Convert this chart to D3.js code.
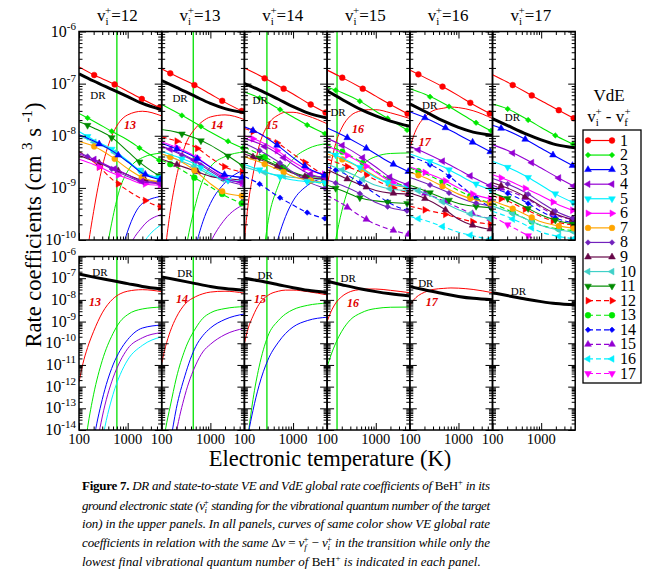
<!DOCTYPE html>
<html><head><meta charset="utf-8">
<script src="https://cdn.jsdelivr.net/npm/d3@7"></script>
</head><body style="margin:0">
<svg id="c" width="651" height="579"></svg>
<script>
// ---------------- DATA ----------------
const temps = [100, 200, 500, 1000, 2000, 5000];
const veTemps = [100, 120, 150, 200, 300, 500, 700, 1000, 2000, 5000];
const panelVi = [12, 13, 14, 15, 16, 17];
const thresholdT = [600, 445, 290, 160, null, null];
const xTickLabels = ["100", "1000"];
const yTickExpUpper = [-6, -7, -8, -9, -10];
const yTickExpLower = [-6, -7, -8, -9, -10, -11, -12, -13, -14];
const legendLabels = ["1","2","3","4","5","6","7","8","9","10","11","12","13","14","15","16","17"];
const veLabels = ["13", "14", "15", "16", "17", null];

// DR rate coefficients, log10 (cm^3 s^-1) at temps
const drLog = [
  [-6.81, -6.95, -7.12, -7.25, -7.38, -7.50],
  [-6.94, -7.07, -7.25, -7.38, -7.48, -7.56],
  [-7.00, -7.12, -7.30, -7.44, -7.56, -7.66],
  [-7.14, -7.30, -7.50, -7.62, -7.72, -7.82],
  [-7.39, -7.53, -7.72, -7.84, -7.93, -7.99],
  [-7.67, -7.80, -7.97, -8.08, -8.17, -8.23]
];

// VdE rate coefficients, log10, one row per v_i - v_f = 1..v_i
const vdeLog12 = [
  [-6.68,-6.83,-7.00,-7.15,-7.30,-7.48],
  [-7.57,-7.72,-7.93,-8.08,-8.27,-8.50],
  [-7.98,-8.10,-8.30,-8.50,-8.72,-8.85],
  [-8.35,-8.45,-8.62,-8.75,-8.88,-8.92],
  [-7.92,-8.08,-8.27,-8.48,-8.70,-8.82],
  [-8.45,-8.55,-8.72,-8.82,-8.92,-8.95],
  [-8.11,-8.20,-8.42,-8.63,-8.80,-8.90],
  [-8.32,-8.45,-8.65,-8.78,-8.88,-8.90],
  [-8.38,-8.48,-8.63,-8.75,-8.85,-8.88],
  [-8.00,-8.12,-8.30,-8.50,-8.70,-8.82],
  [-7.73,-7.85,-8.05,-8.30,-8.55,-8.80],
  [-8.30,-8.50,-8.85,-9.05,-9.22,-9.38]
];
const vdeLog13 = [
  [-6.72,-6.86,-7.04,-7.20,-7.36,-7.55],
  [-7.40,-7.55,-7.76,-7.93,-8.08,-8.25],
  [-8.15,-8.25,-8.42,-8.60,-8.75,-8.80],
  [-8.20,-8.30,-8.48,-8.65,-8.82,-8.90],
  [-8.30,-8.40,-8.55,-8.72,-8.85,-8.88],
  [-8.12,-8.22,-8.40,-8.60,-8.80,-8.92],
  [-8.35,-8.45,-8.68,-8.92,-9.10,-9.16],
  [-8.20,-8.32,-8.50,-8.68,-8.85,-8.95],
  [-8.45,-8.55,-8.68,-8.78,-8.82,-8.85],
  [-8.35,-8.45,-8.60,-8.75,-8.85,-8.88],
  [-7.88,-7.93,-8.05,-8.18,-8.35,-8.60],
  [-8.02,-8.10,-8.22,-8.42,-8.60,-8.70],
  [-8.47,-8.60,-8.82,-8.98,-9.15,-9.32]
];
const vdeLog14 = [
  [-6.70,-6.84,-7.04,-7.20,-7.37,-7.57],
  [-7.16,-7.27,-7.48,-7.64,-7.80,-7.98],
  [-7.83,-7.95,-8.20,-8.42,-8.62,-8.78],
  [-8.05,-8.15,-8.35,-8.55,-8.72,-8.82],
  [-8.55,-8.65,-8.78,-8.85,-8.88,-8.90],
  [-8.00,-8.10,-8.30,-8.50,-8.65,-8.75],
  [-8.40,-8.50,-8.65,-8.78,-8.85,-8.90],
  [-8.15,-8.28,-8.50,-8.70,-8.88,-9.02],
  [-8.35,-8.45,-8.60,-8.72,-8.80,-8.83],
  [-8.60,-8.68,-8.76,-8.80,-8.82,-8.85],
  [-8.30,-8.42,-8.58,-8.70,-8.78,-8.80],
  [-7.86,-7.96,-8.15,-8.35,-8.55,-8.80],
  [-8.22,-8.35,-8.55,-8.72,-8.85,-8.92],
  [-8.78,-8.92,-9.17,-9.33,-9.48,-9.60]
];
const vdeLog15 = [
  [-6.74,-6.88,-7.08,-7.24,-7.40,-7.60],
  [-7.07,-7.17,-7.35,-7.53,-7.70,-7.92],
  [-7.85,-7.98,-8.18,-8.35,-8.52,-8.70],
  [-8.05,-8.18,-8.40,-8.60,-8.80,-8.95],
  [-8.30,-8.42,-8.62,-8.80,-8.92,-8.98],
  [-8.20,-8.32,-8.52,-8.70,-8.88,-9.00],
  [-8.35,-8.45,-8.62,-8.78,-8.92,-9.00],
  [-8.85,-8.95,-9.12,-9.28,-9.38,-9.45],
  [-8.65,-8.78,-8.95,-9.05,-9.10,-9.12],
  [-8.55,-8.65,-8.82,-8.95,-9.02,-9.05],
  [-8.95,-9.05,-9.20,-9.25,-9.28,-9.30],
  [-8.45,-8.55,-8.70,-8.85,-8.98,-9.10],
  [-8.17,-8.30,-8.50,-8.68,-8.85,-9.00],
  [-8.60,-8.70,-8.92,-9.12,-9.30,-9.45],
  [-9.15,-9.30,-9.55,-9.70,-9.80,-9.90]
];
const vdeLog16 = [
  [-6.74,-6.88,-7.07,-7.23,-7.40,-7.60],
  [-7.10,-7.20,-7.38,-7.55,-7.72,-7.92],
  [-7.54,-7.65,-7.83,-7.98,-8.13,-8.33],
  [-8.20,-8.32,-8.50,-8.65,-8.80,-8.98],
  [-8.35,-8.45,-8.60,-8.75,-8.90,-9.05],
  [-8.60,-8.70,-8.85,-9.00,-9.12,-9.22],
  [-8.70,-8.80,-8.98,-9.12,-9.22,-9.30],
  [-8.80,-8.90,-9.05,-9.18,-9.28,-9.35],
  [-9.10,-9.20,-9.40,-9.60,-9.72,-9.80],
  [-9.00,-9.10,-9.28,-9.42,-9.52,-9.60],
  [-8.95,-9.05,-9.20,-9.30,-9.35,-9.38],
  [-9.35,-9.42,-9.50,-9.58,-9.65,-9.70],
  [-8.62,-8.72,-8.90,-9.05,-9.18,-9.30],
  [-8.40,-8.50,-8.70,-8.92,-9.15,-9.40],
  [-9.00,-9.10,-9.25,-9.38,-9.50,-9.60],
  [-9.55,-9.62,-9.75,-9.85,-9.92,-10.00]
];
const vdeLog17 = [
  [-6.83,-6.97,-7.17,-7.33,-7.48,-7.68],
  [-7.39,-7.48,-7.68,-7.84,-8.00,-8.18],
  [-7.80,-7.90,-8.08,-8.24,-8.40,-8.60],
  [-8.17,-8.28,-8.46,-8.62,-8.78,-8.98],
  [-8.49,-8.60,-8.78,-8.95,-9.12,-9.30],
  [-8.75,-8.85,-9.02,-9.15,-9.30,-9.45],
  [-9.25,-9.35,-9.52,-9.65,-9.72,-9.78],
  [-8.82,-8.92,-9.10,-9.28,-9.45,-9.60],
  [-8.90,-9.00,-9.18,-9.35,-9.50,-9.62],
  [-9.35,-9.45,-9.60,-9.72,-9.80,-9.85],
  [-9.10,-9.20,-9.38,-9.52,-9.62,-9.70],
  [-9.15,-9.25,-9.42,-9.55,-9.65,-9.72],
  [-9.30,-9.42,-9.60,-9.72,-9.78,-9.82],
  [-9.00,-9.10,-9.28,-9.45,-9.58,-9.68],
  [-8.95,-9.05,-9.20,-9.38,-9.52,-9.62],
  [-9.45,-9.55,-9.72,-9.85,-9.92,-9.98],
  [-9.55,-9.70,-9.90,-10.05,-10.15,-10.20]
];

// VE rate coefficients, log10, at veTemps (dv = 1,2,3,... colours red, green, blue, violet, cyan)
const veLog12 = [
  [-11.8,-10.95,-10.2,-9.45,-8.6,-7.95,-7.72,-7.6,-7.53,-7.62],
  [-17.1,-15.5,-13.9,-12.35,-10.8,-9.55,-9.0,-8.68,-8.42,-8.33],
  [-20.4,-18.5,-16.5,-14.5,-12.6,-11.0,-10.33,-9.83,-9.3,-9.16],
  [-22.4,-20.15,-17.9,-15.65,-13.4,-11.6,-10.83,-10.25,-9.75,-9.51],
  [-25.1,-22.45,-19.8,-17.14,-14.5,-12.36,-11.45,-10.77,-10.1,-9.7]
];
const veLog13 = [
  [-10.9,-10.15,-9.45,-8.8,-8.2,-7.85,-7.72,-7.64,-7.6,-7.69],
  [-15.1,-13.96,-12.9,-11.6,-10.3,-9.3,-8.85,-8.6,-8.4,-8.31],
  [-17.2,-15.9,-14.6,-13.0,-11.5,-10.15,-9.65,-9.3,-8.9,-8.65],
  [-19.2,-17.5,-15.8,-14.1,-12.4,-11.0,-10.4,-10.05,-9.6,-9.31]
];
const veLog14 = [
  [-10.0,-9.3,-8.75,-8.2,-7.8,-7.6,-7.55,-7.55,-7.62,-7.77],
  [-15.7,-14.2,-12.6,-11.1,-9.7,-8.95,-8.65,-8.45,-8.25,-8.15],
  [-15.4,-14.2,-13.1,-11.95,-10.8,-9.95,-9.55,-9.25,-8.95,-8.8]
];
const veLog15 = [
  [-9.0,-8.55,-8.15,-7.85,-7.62,-7.52,-7.5,-7.5,-7.56,-7.67],
  [-11.1,-10.55,-10.0,-9.45,-8.92,-8.6,-8.47,-8.4,-8.34,-8.33]
];
const veLog16 = [
  [-8.25,-8.0,-7.8,-7.65,-7.52,-7.47,-7.45,-7.46,-7.52,-7.67]
];
const veLog17 = [];

// label anchors in data space: [T, log10 k]
const drLabelUpper = [[245,-7.22],[238,-7.27],[210,-7.31],[168,-7.54],[257,-7.41],[257,-7.64]];
const drLabelLower = [[270,-6.71],[301,-6.76],[266,-6.85],[270,-6.99],[213,-7.22],[342,-7.59]];
const veLabelUpper = [[1120,-7.79],[1370,-7.79],[370,-7.79],[433,-7.87],[203,-8.12],null];
const veLabelLower = [[213,-8.1],[261,-7.96],[210,-7.96],[342,-8.14],[283,-8.1],null];

const vdeAll = [vdeLog12, vdeLog13, vdeLog14, vdeLog15, vdeLog16, vdeLog17];
const veAll = [veLog12, veLog13, veLog14, veLog15, veLog16, veLog17];

// ---------------- STYLE ----------------
const FONT = "Liberation Serif";
const colors = ["#ff0000","#00e800","#0000ff","#9400d3","#00f0ff","#ff00ff","#ffa500","#7221bc","#670748","#40d0c8","#008b00","#ff0000","#00e800","#0000ff","#9400d3","#00f0ff","#ff00ff"];
const symbols = ["circle","diamond","up","left","down","right","circle","diamond","up","left","down","right","circle","diamond","up","left","down"];
const markerPatterns = [[205,540,1950,4500],[150,470,1750,4400],[260,640,2300,4650]];

const svg = d3.select("#c");
const P0 = 79, PW = 82.7;
const UP = {top:31.5, bottom:240, dom:[1e-10,1e-6]};
const LO = {top:256.5, bottom:430, dom:[1e-14,1e-6]};

function txt(parent){ return parent.append("text").style("font-family", FONT); }
function symPath(type){
  const m = {circle:[d3.symbolCircle,0,26], diamond:[d3.symbolSquare,45,15], up:[d3.symbolTriangle,0,20],
    left:[d3.symbolTriangle,-90,20], down:[d3.symbolTriangle,180,20], right:[d3.symbolTriangle,90,20]}[type];
  return {d: d3.symbol(m[0], m[2])(), r: m[1]};
}
function drawMarker(g, type, x, y, color){
  const s = symPath(type);
  g.append("path").attr("d", s.d).attr("transform", `translate(${x},${y}) rotate(${s.r})`)
    .attr("fill", color).attr("stroke", color).attr("stroke-width", 0.5);
}
// point on a monotone curve at a given x, by linear interpolation in pixel space of the same points
function curveY(pts, xt){
  for (let j = 0; j < pts.length-1; j++){
    if (xt >= pts[j][0] && xt <= pts[j+1][0]){
      const f = (xt - pts[j][0]) / (pts[j+1][0] - pts[j][0]);
      return pts[j][1] + f*(pts[j+1][1] - pts[j][1]);
    }
  }
  return pts[pts.length-1][1];
}

const defs = svg.append("defs");
const plotLayer = svg.append("g");
const textLayer = svg.append("g");

function drawPanel(i, box, upper){
  const left = P0 + i*PW, right = left + PW;
  const x = d3.scaleLog().domain([100,5000]).range([left,right]);
  const y = d3.scaleLog().domain(box.dom).range([box.bottom, box.top]);
  const cid = `clip${upper?"u":"l"}${i}`;
  defs.append("clipPath").attr("id", cid).append("rect")
    .attr("x", left).attr("y", box.top).attr("width", PW).attr("height", box.bottom-box.top);
  const g = plotLayer.append("g");
  const cg = g.append("g").attr("clip-path", `url(#${cid})`);
  const line = d3.line().x(d=>x(d[0])).y(d=>y(Math.pow(10,d[1]))).curve(d3.curveMonotoneX);

  if (thresholdT[i]) cg.append("line").attr("x1", x(thresholdT[i])).attr("x2", x(thresholdT[i]))
    .attr("y1", box.top).attr("y2", box.bottom).attr("stroke", "#00e000").attr("stroke-width", 1.3);

  veAll[i].forEach((row, k) => {
    cg.append("path").attr("d", line(veTemps.map((t,j)=>[t,row[j]])))
      .attr("fill","none").attr("stroke", colors[k]).attr("stroke-width", 1);
  });

  if (upper){
    const rows = vdeAll[i];
    for (let k = rows.length-1; k >= 0; k--){
      const data = temps.map((t,j)=>[t,rows[k][j]]);
      cg.append("path").attr("d", line(data))
        .attr("fill","none").attr("stroke", colors[k]).attr("stroke-width", 1.1)
        .attr("stroke-dasharray", k >= 11 ? "5,3" : null);
      const pts = data.map(d => [x(d[0]), y(Math.pow(10,d[1]))]);
      markerPatterns[(k + i) % 3].forEach(t => {
        drawMarker(cg, symbols[k], x(t), curveY(pts, x(t)), colors[k]);
      });
    }
  }

  cg.append("path").attr("d", line(temps.map((t,j)=>[t,drLog[i][j]])))
    .attr("fill","none").attr("stroke","#000").attr("stroke-width", 3);

  const ax = g.append("g");
  const xMaj = [100,1000], xMin = [200,300,400,500,600,700,800,900,2000,3000,4000];
  const e0 = Math.round(Math.log10(box.dom[0])), e1 = Math.round(Math.log10(box.dom[1]));
  const yMaj = [], yMin = [];
  for (let e = e0; e <= e1; e++){ yMaj.push(Math.pow(10,e)); if (e < e1) for (let m = 2; m <= 9; m++) yMin.push(m*Math.pow(10,e)); }
  const add = (axis, tr) => ax.append("g").attr("transform", tr).call(axis);
  add(d3.axisBottom(x).tickValues(xMaj).tickSize(-7).tickFormat(""), `translate(0,${box.bottom})`);
  add(d3.axisBottom(x).tickValues(xMin).tickSize(-3.5).tickFormat(""), `translate(0,${box.bottom})`);
  add(d3.axisTop(x).tickValues(xMaj).tickSize(-7).tickFormat(""), `translate(0,${box.top})`);
  add(d3.axisTop(x).tickValues(xMin).tickSize(-3.5).tickFormat(""), `translate(0,${box.top})`);
  add(d3.axisLeft(y).tickValues(yMaj).tickSize(-7).tickFormat(""), `translate(${left},0)`);
  add(d3.axisLeft(y).tickValues(yMin).tickSize(-3.5).tickFormat(""), `translate(${left},0)`);
  add(d3.axisRight(y).tickValues(yMaj).tickSize(-7).tickFormat(""), `translate(${right},0)`);
  add(d3.axisRight(y).tickValues(yMin).tickSize(-3.5).tickFormat(""), `translate(${right},0)`);
  ax.selectAll(".domain").remove();
  ax.selectAll("line").attr("stroke","#000").attr("stroke-width",1);
  ax.selectAll("text").remove();

  g.append("rect").attr("x", left).attr("y", box.top).attr("width", PW).attr("height", box.bottom-box.top)
    .attr("fill","none").attr("stroke","#000").attr("stroke-width",1.5);

  const dl = upper ? drLabelUpper[i] : drLabelLower[i];
  txt(textLayer).attr("x", x(dl[0])).attr("y", y(Math.pow(10,dl[1]))+4).attr("text-anchor","middle")
    .attr("font-size", 11).text("DR");
  const vl = upper ? veLabelUpper[i] : veLabelLower[i];
  if (vl) txt(textLayer).attr("x", x(vl[0])).attr("y", y(Math.pow(10,vl[1]))+4).attr("text-anchor","middle")
    .attr("font-size", 12).attr("font-style","italic").attr("font-weight","bold")
    .attr("fill","#e00000").text(veLabels[i]);

  if (i === 0){
    const exps = upper ? yTickExpUpper : yTickExpLower;
    exps.forEach(e => {
      const t = txt(textLayer).attr("x", left-3).attr("y", y(Math.pow(10,e))+5).attr("text-anchor","end").attr("font-size",16);
      t.append("tspan").text("10");
      t.append("tspan").attr("dy",-7).attr("font-size",11).text(String(e));
    });
  }
  if (!upper){
    [100,1000].forEach((v,k) => txt(textLayer).attr("x", x(v)).attr("y", box.bottom+14)
      .attr("text-anchor","middle").attr("font-size",14.5).text(xTickLabels[k]));
  }
}

panelVi.forEach((vi,i) => {
  drawPanel(i, UP, true);
  drawPanel(i, LO, false);
  const cx = P0 + i*PW + PW/2 - 3;
  const t = txt(textLayer).attr("x", cx).attr("y", 21).attr("text-anchor","middle").attr("font-size",17);
  t.append("tspan").text("v");
  t.append("tspan").attr("font-size",11).attr("dy",4).text("i");
  t.append("tspan").attr("font-size",11).attr("dx",-3.5).attr("dy",-11).text("+");
  t.append("tspan").attr("dy",7).text("=" + vi);
});

txt(textLayer).attr("x", 330).attr("y", 466).attr("text-anchor","middle").attr("font-size",22.5)
  .text("Electronic temperature (K)");
const yt = txt(textLayer).attr("transform","translate(41,225) rotate(-90)").attr("text-anchor","middle").attr("font-size",22.5);
yt.append("tspan").text("Rate coefficients (cm ");
yt.append("tspan").attr("dy",-9).attr("font-size",15).text("3");
yt.append("tspan").attr("dy",9).text(" s ");
yt.append("tspan").attr("dy",-9).attr("font-size",15).text("-1");
yt.append("tspan").attr("dy",9).text(")");

// legend
const lg = svg.append("g");
txt(lg).attr("x",609).attr("y",101).attr("text-anchor","middle").attr("font-size",17).text("VdE");
const lt = txt(lg).attr("x",609).attr("y",122).attr("text-anchor","middle").attr("font-size",17);
lt.append("tspan").text("v");
lt.append("tspan").attr("font-size",11).attr("dy",4).text("i");
lt.append("tspan").attr("font-size",11).attr("dx",-3.5).attr("dy",-11).text("+");
lt.append("tspan").attr("dy",7).text(" - v");
lt.append("tspan").attr("font-size",11).attr("dy",4).text("f");
lt.append("tspan").attr("font-size",11).attr("dx",-3.5).attr("dy",-11).text("+");
lg.append("rect").attr("x",583).attr("y",130).attr("width",58).attr("height",253)
  .attr("fill","#fff").attr("stroke","#000").attr("stroke-width",1.3);
const ly = d3.scalePoint().domain(legendLabels).range([140.5, 373.5]);
legendLabels.forEach((lab,k) => {
  const yy = ly(lab);
  lg.append("line").attr("x1",588).attr("x2",612).attr("y1",yy).attr("y2",yy).attr("stroke",colors[k])
    .attr("stroke-width",1.2).attr("stroke-dasharray", k >= 11 ? "5,3" : null);
  drawMarker(lg, symbols[k], 588, yy, colors[k]);
  drawMarker(lg, symbols[k], 612, yy, colors[k]);
  txt(lg).attr("x",620).attr("y",yy+5).attr("font-size",16).text(lab);
});

// caption
const capLines = [
  [["Figure 7.","b"],[" DR and state-to-state VE and VdE global rate coefficients of ","i"],["BeH","r"],["+","sup"],[" in its","i"]],
  [["ground electronic state (","i"],["v","i"],["i","sub"],["+","supb"],[" standing for the vibrational quantum number of the target","i"]],
  [["ion) in the upper panels.  In all panels, curves of same color show VE global rate","i"]],
  [["coefficients in relation with the same ","i"],["Δ","r"],["v","i"],[" = ","r"],["v","i"],["f","sub"],["+","supb"],[" − ","r"],["v","i"],["i","sub"],["+","supb"],[" in the transition while only the","i"]],
  [["lowest final vibrational quantum number of ","i"],["BeH","r"],["+","sup"],[" is indicated in each panel.","i"]]
];
const capBase = [490, 509.5, 528, 547, 565.5];
capLines.forEach((segs, li) => {
  const t = txt(svg).attr("x", 82).attr("y", capBase[li]).attr("font-size", 13);
  if (li < 4) t.attr("textLength", 408).attr("lengthAdjust", "spacing");
  let off = 0;
  segs.forEach(([s, st]) => {
    const sp = t.append("tspan").text(s);
    let target = 0;
    if (st === "b") sp.attr("font-weight","bold");
    else if (st === "i") sp.attr("font-style","italic");
    else if (st === "sup") { target = -5; sp.attr("font-size", 9); }
    else if (st === "sub") { target = 3; sp.attr("font-size", 9).attr("font-style","italic"); }
    else if (st === "supb") { target = -5; sp.attr("font-size", 9).attr("dx", -3); }
    if (target !== off) sp.attr("dy", target - off);
    off = target;
  });
});
</script></body></html>
